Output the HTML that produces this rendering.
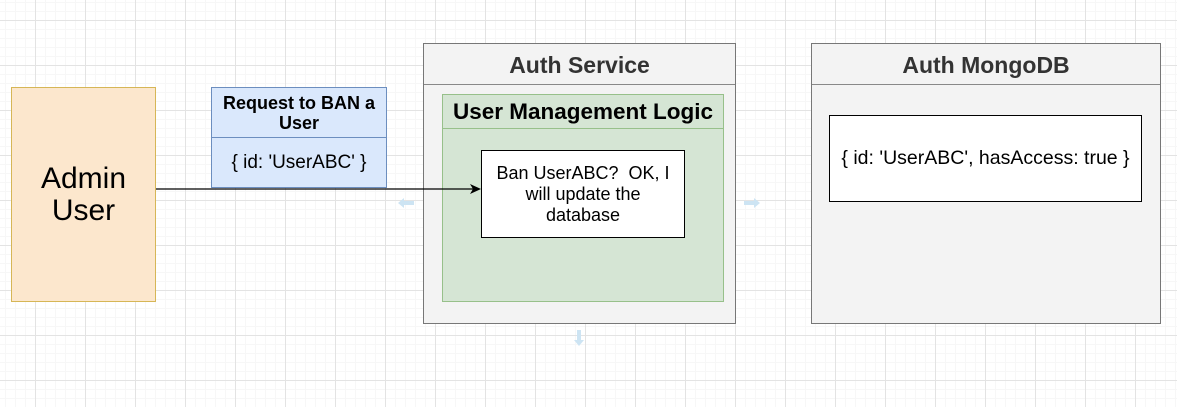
<!DOCTYPE html>
<html><head><style>
body{margin:0;width:1177px;height:407px;overflow:hidden;font-family:"Liberation Sans",sans-serif;
background-color:#fff;
background-image:linear-gradient(#e3e3e3 1px,transparent 1px),linear-gradient(90deg,#e3e3e3 1px,transparent 1px),linear-gradient(#f7f7f7 1px,transparent 1px),linear-gradient(90deg,#f7f7f7 1px,transparent 1px);
background-size:50px 45px,50px 45px,10px 9px,10px 9px;background-position:35px 20px,35px 20px,35px 20px,35px 20px;position:relative}
.b{position:absolute;box-sizing:border-box;display:flex;align-items:center;justify-content:center;text-align:center}
</style></head><body>
<div class="b" style="left:11px;top:87px;width:145px;height:215px;background:#fce7cd;border:1px solid #d6b656;font-size:30px;line-height:32px">Admin<br>User</div>
<div class="b" style="left:211px;top:87px;width:176px;height:101px;background:#dae8fc;border:1px solid #6c8ebf;display:block">
<div style="height:50px;border-bottom:1px solid #6c8ebf;font-weight:bold;font-size:18px;line-height:20px;padding-top:5px;box-sizing:border-box;white-space:nowrap">Request to BAN a<br>User</div>
<div style="font-size:19px;line-height:50px">{ id: 'UserABC' }</div></div>
<div class="b" style="left:423px;top:43px;width:313px;height:281px;background:#f3f3f3;border:1px solid #777;display:block">
<div style="height:40px;line-height:42px;font-weight:bold;font-size:23px;color:#333;border-bottom:1px solid #888">Auth Service</div></div>
<div class="b" style="left:442px;top:94px;width:282px;height:208px;background:#d5e5d4;border:1px solid #97c08a;display:block">
<div style="height:33px;line-height:34px;font-weight:bold;font-size:22.5px;border-bottom:1px solid #97c08a;white-space:nowrap">User Management Logic</div></div>
<div class="b" style="left:481px;top:150px;width:204px;height:88px;background:#fff;border:1px solid #000;font-size:18px;line-height:21px;white-space:nowrap">Ban UserABC?&nbsp; OK, I<br>will update the<br>database</div>
<div class="b" style="left:811px;top:43px;width:350px;height:281px;background:#f3f3f3;border:1px solid #777;display:block">
<div style="height:40px;line-height:42px;font-weight:bold;font-size:23px;color:#333;border-bottom:1px solid #888">Auth MongoDB</div></div>
<div class="b" style="left:829px;top:115px;width:313px;height:87px;background:#fff;border:1px solid #000;font-size:19.5px;white-space:nowrap">{ id: 'UserABC', hasAccess: true }</div>
<svg style="position:absolute;left:0;top:0" width="1177" height="407">
<line x1="156" y1="189" x2="474" y2="189" stroke="#000" stroke-width="1.2"/>
<path d="M481 189 L470 184 L473 189 L470 194Z" fill="#000"/>
<g fill="#cde4f3"><path d="M398 203 l6 -5 v3 h10 v4 h-10 v3z"/><path d="M760 203 l-6 -5 v3 h-10 v4 h10 v3z"/><path d="M579 346 l-5 -6 h3 v-10 h4 v10 h3z"/></g>
</svg>
</body></html>
